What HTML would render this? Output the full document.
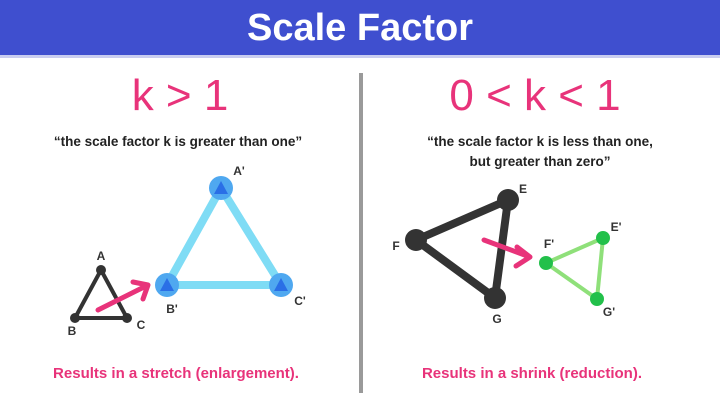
<!DOCTYPE html>
<html><head><style>
body{margin:0;width:720px;height:404px;background:#fff;overflow:hidden;font-family:"Liberation Sans",sans-serif}
</style></head><body>
<svg width="720" height="404" xmlns="http://www.w3.org/2000/svg" font-family="Liberation Sans, sans-serif">
<rect x="0" y="0" width="720" height="55" fill="#3f4fcf"/>
<rect x="0" y="55" width="720" height="3" fill="#c9cdf0"/>
<text x="360" y="40" text-anchor="middle" font-size="38" font-weight="bold" fill="#fff">Scale Factor</text>
<rect x="359" y="73" width="4" height="320" fill="#9a9a9a"/>
<text x="180" y="110" text-anchor="middle" font-size="44" fill="#e8337a">k &gt; 1</text>
<text x="535" y="110" text-anchor="middle" font-size="44" fill="#e8337a">0 &lt; k &lt; 1</text>
<g font-size="13.5" font-weight="bold" fill="#222" text-anchor="middle">
<text x="178" y="146">“the scale factor k is greater than one”</text>
<text x="540" y="146">“the scale factor k is less than one,</text>
<text x="540" y="166">but greater than zero”</text>
</g>
<polygon points="101,270 75,318 127,318" fill="none" stroke="#333" stroke-width="4" stroke-linejoin="round"/>
<g fill="#333"><circle cx="101" cy="270" r="5"/><circle cx="75" cy="318" r="5"/><circle cx="127" cy="318" r="5"/></g>
<polygon points="221,188 167,285 281,285" fill="none" stroke="#7fdcf5" stroke-width="8"/>
<g fill="#4fa8f0"><circle cx="221" cy="188" r="12"/><circle cx="167" cy="285" r="12"/><circle cx="281" cy="285" r="12"/></g>
<g fill="#2a6fe6"><polygon points="221,181 214,194 228,194"/><polygon points="167,278 160,291 174,291"/><polygon points="281,278 274,291 288,291"/></g>
<path d="M98,310 L148,285 M133,282 L148,285 L143,299" stroke="#e8337a" stroke-width="5" fill="none" stroke-linecap="round" stroke-linejoin="round"/>
<polygon points="508,200 416,240 495,298" fill="none" stroke="#333" stroke-width="8" stroke-linejoin="round"/>
<g fill="#333"><circle cx="508" cy="200" r="11"/><circle cx="416" cy="240" r="11"/><circle cx="495" cy="298" r="11"/></g>
<polygon points="603,238 546,263 597,299" fill="none" stroke="#8fe07a" stroke-width="4"/>
<g fill="#22c04a"><circle cx="603" cy="238" r="7"/><circle cx="546" cy="263" r="7"/><circle cx="597" cy="299" r="7"/></g>
<path d="M484,240 L530,257 M517,247 L530,257 L516,266" stroke="#e8337a" stroke-width="5" fill="none" stroke-linecap="round" stroke-linejoin="round"/>
<g font-size="12" font-weight="bold" fill="#333" text-anchor="middle">
<text x="101" y="260">A</text><text x="72" y="335">B</text><text x="141" y="329">C</text>
<text x="239" y="175">A'</text><text x="172" y="313">B'</text><text x="300" y="305">C'</text>
<text x="523" y="193">E</text><text x="396" y="250">F</text><text x="497" y="323">G</text>
<text x="616" y="231">E'</text><text x="549" y="248">F'</text><text x="609" y="316">G'</text>
</g>
<text x="176" y="378" text-anchor="middle" font-size="15" font-weight="bold" fill="#e8337a">Results in a stretch (enlargement).</text>
<text x="532" y="378" text-anchor="middle" font-size="15" font-weight="bold" fill="#e8337a">Results in a shrink (reduction).</text>
</svg>
</body></html>
